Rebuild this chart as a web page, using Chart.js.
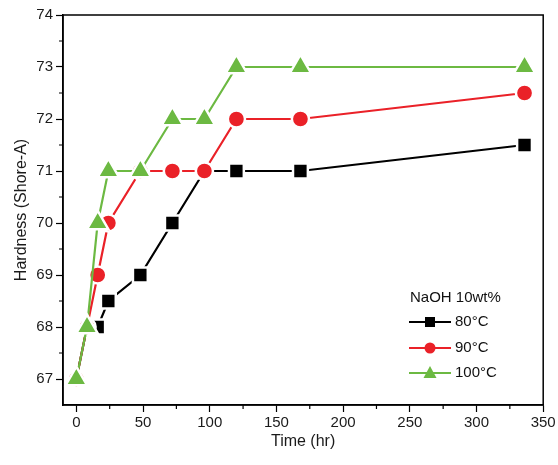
<!DOCTYPE html>
<html>
<head>
<meta charset="utf-8">
<script src="https://cdn.jsdelivr.net/npm/chart.js@4.4.0/dist/chart.umd.min.js"></script>
<style>
  html, body { margin: 0; padding: 0; background: #fff; }
  #wrap { width: 558px; height: 465px; position: relative; }
</style>
</head>
<body>
<div id="wrap"><canvas id="hardnessChart" width="558" height="465"></canvas></div>
<script>
// time points (hr)
const times = [0, 8, 16, 24, 48, 72, 96, 120, 168, 336];
// hardness (Shore-A) per temperature
const hard80 = [67, 68, 68, 68.5, 69, 70, 71, 71, 71, 71.5];
const hard90 = [67, 68, 69, 70, 71, 71, 71, 72, 72, 72.5];
const hard100 = [67, 68, 70, 71, 71, 72, 72, 73, 73, 73];
const seriesLabels = ['80°C', '90°C', '100°C'];
const legendTitle = 'NaOH 10wt%';
const xTickLabels = [0, 50, 100, 150, 200, 250, 300, 350];
const yTickLabels = [67, 68, 69, 70, 71, 72, 73, 74];

const RED = '#ea2128';
const GREEN = '#6cb942';
const FONT = '"Liberation Sans", Arial, sans-serif';

function pts(ys) {
    return times.map((t, i) => ({ x: t, y: ys[i] }));
}

// frame, minor ticks and the inset legend
const extrasPlugin = {
    id: 'extras',
    afterDraw(chart) {
        const ctx = chart.ctx;
        const a = chart.chartArea;
        const xs = chart.scales.x, ys = chart.scales.y;
        ctx.save();
        ctx.strokeStyle = '#000';
        ctx.lineWidth = 1.5;
        ctx.strokeRect(a.left, a.top, a.right - a.left, a.bottom - a.top);

        // minor ticks
        ctx.lineWidth = 1.2;
        ctx.beginPath();
        for (let v = 25; v < 350; v += 50) {
            const px = xs.getPixelForValue(v);
            ctx.moveTo(px, a.bottom);
            ctx.lineTo(px, a.bottom + 4);
        }
        for (let v = 67.5; v < 74; v += 1) {
            const py = ys.getPixelForValue(v);
            ctx.moveTo(a.left, py);
            ctx.lineTo(a.left - 4, py);
        }
        ctx.stroke();

        // legend
        ctx.fillStyle = '#111';
        ctx.font = '15px ' + FONT;
        ctx.textBaseline = 'middle';
        ctx.textAlign = 'left';
        ctx.fillText(legendTitle, 410, 298);
        const rowY = [322, 348, 373];
        chart.data.datasets.forEach((ds, i) => {
            const y = rowY[i];
            ctx.strokeStyle = ds.borderColor;
            ctx.lineWidth = 2.2;
            ctx.beginPath();
            ctx.moveTo(409, y);
            ctx.lineTo(451, y);
            ctx.stroke();
            ctx.fillStyle = ds.backgroundColor;
            const cx = 430;
            ctx.beginPath();
            if (ds.pointStyle === 'rect') {
                ctx.rect(cx - 5, y - 5, 10, 10);
            } else if (ds.pointStyle === 'circle') {
                ctx.arc(cx, y, 5.5, 0, Math.PI * 2);
            } else {
                ctx.moveTo(cx, y - 7);
                ctx.lineTo(cx + 6.5, y + 5);
                ctx.lineTo(cx - 6.5, y + 5);
                ctx.closePath();
            }
            ctx.fill();
            ctx.fillStyle = '#111';
            ctx.fillText(ds.label, 455, y);
        });
        ctx.restore();
    }
};

const ctx = document.getElementById('hardnessChart').getContext('2d');
new Chart(ctx, {
    type: 'line',
    data: {
        datasets: [
            {
                label: seriesLabels[0],
                data: pts(hard80),
                borderColor: '#000',
                backgroundColor: '#000',
                pointStyle: 'rect',
                pointRadius: 10.5,
                borderWidth: 2.2,
                pointBorderColor: '#fff',
                pointBorderWidth: 2.5,
                order: 3,
                tension: 0
            },
            {
                label: seriesLabels[1],
                data: pts(hard90),
                borderColor: RED,
                backgroundColor: RED,
                pointStyle: 'circle',
                pointRadius: 8.6,
                borderWidth: 2.2,
                pointBorderColor: '#fff',
                pointBorderWidth: 2.5,
                order: 2,
                tension: 0
            },
            {
                label: seriesLabels[2],
                data: pts(hard100),
                borderColor: GREEN,
                backgroundColor: GREEN,
                pointStyle: 'triangle',
                pointRadius: 12.3,
                borderWidth: 2.2,
                pointBorderColor: '#fff',
                pointBorderWidth: 2.5,
                order: 1,
                tension: 0
            }
        ]
    },
    options: {
        responsive: false,
        animation: false,
        layout: { padding: { top: 15, right: 14, left: 0, bottom: 0 } },
        plugins: {
            legend: { display: false },
            tooltip: { enabled: false }
        },
        scales: {
            x: {
                type: 'linear',
                min: -10,
                max: 350,
                afterBuildTicks(scale) { scale.ticks = xTickLabels.map(v => ({ value: v })); },
                afterFit(scale) { scale.height = 60; },
                border: { display: true, color: '#000', width: 1.5 },
                grid: {
                    drawOnChartArea: false,
                    tickLength: 7,
                    tickWidth: 1.2,
                    color: '#000'
                },
                ticks: {
                    autoSkip: false,
                    maxRotation: 0,
                    padding: 2,
                    color: '#1a1a1a',
                    font: { family: FONT, size: 15 },
                    callback: v => String(v)
                },
                title: {
                    display: true,
                    text: 'Time (hr)',
                    color: '#1a1a1a',
                    font: { family: FONT, size: 16 },
                    padding: { top: 0, bottom: 14 }
                }
            },
            y: {
                type: 'linear',
                min: 66.5,
                max: 74,
                afterBuildTicks(scale) { scale.ticks = yTickLabels.map(v => ({ value: v })); },
                afterFit(scale) { scale.width = 63; },
                border: { display: true, color: '#000', width: 1.5 },
                grid: {
                    drawOnChartArea: false,
                    tickLength: 7,
                    tickWidth: 1.2,
                    color: '#000'
                },
                ticks: {
                    autoSkip: false,
                    padding: 3,
                    color: '#1a1a1a',
                    font: { family: FONT, size: 15 },
                    callback: v => String(v)
                },
                title: {
                    display: true,
                    text: 'Hardness (Shore-A)',
                    color: '#1a1a1a',
                    font: { family: FONT, size: 16 },
                    padding: { top: 12, bottom: 0 }
                }
            }
        }
    },
    plugins: [extrasPlugin]
});
</script>
</body>
</html>
